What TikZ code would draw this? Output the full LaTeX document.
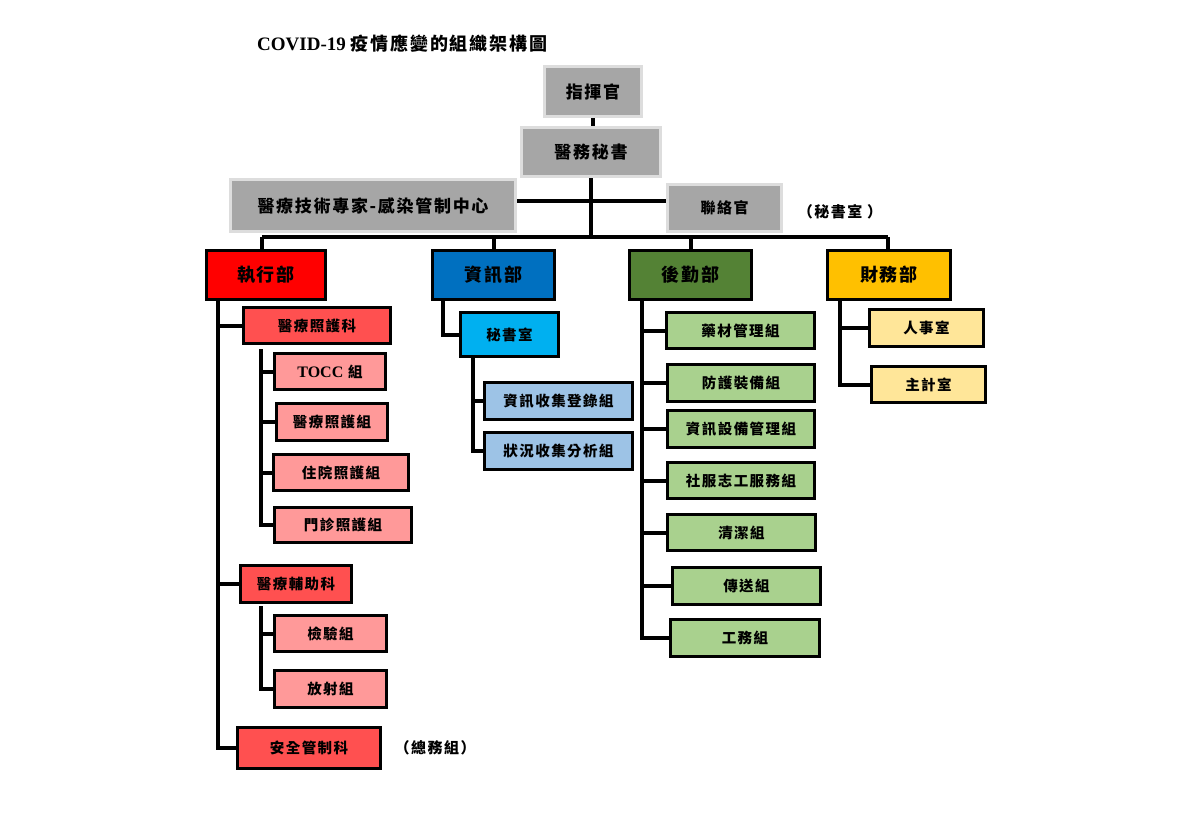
\documentclass[tikz,border=0pt]{standalone}
\usepackage{fontspec}
\setmainfont{Liberation Serif}
\newfontfamily\cjk[LetterSpace=10]{Noto Sans CJK TC}
\definecolor{gfill}{HTML}{A6A6A6}
\definecolor{gedge}{HTML}{DDDDDD}
\definecolor{cexe}{HTML}{FF0000}
\definecolor{cinfo}{HTML}{0070C0}
\definecolor{clog}{HTML}{548235}
\definecolor{cfin}{HTML}{FFC000}
\definecolor{ckeb}{HTML}{FF5050}
\definecolor{cgrp}{HTML}{FF9999}
\definecolor{csec}{HTML}{00B0F0}
\definecolor{cinf}{HTML}{9DC3E6}
\definecolor{clg}{HTML}{A9D18E}
\definecolor{cfs}{HTML}{FFE699}
\tikzset{
  gbox/.style={fill=gfill, draw=gedge, line width=3pt, inner sep=0pt,
    font={\cjk\bfseries\fontsize{17pt}{19pt}\selectfont}},
  dbox/.style={fill=#1, draw=black, line width=3.5pt, inner sep=0pt,
    font={\cjk\bfseries\fontsize{18pt}{20pt}\selectfont}},
  sbox/.style={fill=#1, draw=black, line width=3.5pt, inner sep=0pt,
    font={\cjk\bfseries\fontsize{14.5pt}{16pt}\selectfont}},
  conn/.style={line width=4pt, line join=miter},
  note/.style={inner sep=0pt, font={\cjk\bfseries\fontsize{15pt}{17pt}\selectfont}}
}
\begin{document}
\begin{tikzpicture}[x=1pt,y=-1pt]
\useasboundingbox[fill=white] (0,0) rectangle (1200,819);
% title
\node[inner sep=0pt, anchor=west] (title) at (257,44)
  {{\bfseries\fontsize{19pt}{21pt}\selectfont COVID-19}\hspace{5pt}{\cjk\bfseries\fontsize{18pt}{20pt}\selectfont 疫情應變的組織架構圖}};
% top
\node[gbox, minimum width=97pt, minimum height=50pt] (cmd) at (593,91.5) {指揮官};
\node[gbox, minimum width=139pt, minimum height=49pt] (sec) at (591,152) {醫務秘書};
\node[gbox, minimum width=285pt, minimum height=52pt] (exp) at (373,205.5) {醫療技術專家-感染管制中心};
\node[gbox, minimum width=114pt, minimum height=47pt, font={\cjk\bfseries\fontsize{15pt}{17pt}\selectfont}] (liaison) at (724.5,208) {聯絡官};
\node[note] (note1) at (840,212) {（秘書室 ）};
% departments
\node[dbox=cexe, minimum width=119pt, minimum height=49pt] (exe) at (266,275) {執行部};
\node[dbox=cinfo, minimum width=122pt, minimum height=49pt] (info) at (493.5,275) {資訊部};
\node[dbox=clog, minimum width=122pt, minimum height=49pt] (log) at (690.5,275) {後勤部};
\node[dbox=cfin, minimum width=123pt, minimum height=49pt] (fin) at (889,275) {財務部};
% connectors top
\coordinate (hline) at (592,201);
\coordinate (barL) at (262,237);
\coordinate (barR) at (888,237);
\draw[conn] (cmd.south) -- (cmd.south |- sec.north);
\draw[conn] (sec.south) -- (sec.south |- barL);
\draw[conn] (exp.east |- hline) -- (liaison.west |- hline);
\draw[conn] (barL) -- (barR);
\draw[conn] (barL) -- (barL |- exe.north);
\draw[conn] (info.north |- barL) -- (info.north);
\draw[conn] (log.north |- barL) -- (log.north);
\draw[conn] (barR) -- (barR |- fin.north);
% exec
\node[sbox=ckeb, minimum width=147pt, minimum height=36pt] (k1) at (317,325.5) {醫療照護科};
\node[sbox=cgrp, minimum width=111pt, minimum height=36pt] (g1) at (330,371.5) {{\rmfamily\bfseries\fontsize{16pt}{17pt}\selectfont TOCC} 組};
\node[sbox=cgrp, minimum width=111pt, minimum height=37pt] (g2) at (332,422) {醫療照護組};
\node[sbox=cgrp, minimum width=135pt, minimum height=36pt] (g3) at (341,472.5) {住院照護組};
\node[sbox=cgrp, minimum width=137pt, minimum height=35pt] (g4) at (343,525) {門診照護組};
\node[sbox=ckeb, minimum width=111pt, minimum height=37pt] (k2) at (296,584) {醫療輔助科};
\node[sbox=cgrp, minimum width=112pt, minimum height=36pt] (g5) at (330.5,633.5) {檢驗組};
\node[sbox=cgrp, minimum width=112pt, minimum height=37pt] (g6) at (330.5,689) {放射組};
\node[sbox=ckeb, minimum width=143pt, minimum height=41pt] (k3) at (309,748) {安全管制科};
\node[note] (note2) at (435,748) {（總務組）};
\coordinate (t1) at (218,301);
\coordinate (s1) at (261,349);
\coordinate (s2) at (261,606);
\draw[conn] (t1) |- (k3.west);
\draw[conn] (t1 |- k1.west) -- (k1.west);
\draw[conn] (t1 |- k2.west) -- (k2.west);
\draw[conn] (s1) |- (g4.west);
\draw[conn] (s1 |- g1.west) -- (g1.west);
\draw[conn] (s1 |- g2.west) -- (g2.west);
\draw[conn] (s1 |- g3.west) -- (g3.west);
\draw[conn] (s2) |- (g6.west);
\draw[conn] (s2 |- g5.west) -- (g5.west);
% info
\node[sbox=csec, minimum width=98pt, minimum height=44pt] (sec2) at (509.5,334.5) {秘書室};
\node[sbox=cinf, minimum width=148pt, minimum height=37pt] (i1) at (558.5,401) {資訊收集登錄組};
\node[sbox=cinf, minimum width=148pt, minimum height=37pt] (i2) at (558.5,451) {狀況收集分析組};
\coordinate (t2) at (443,301);
\coordinate (s3) at (473,358);
\draw[conn] (t2) |- (sec2.west);
\draw[conn] (s3) |- (i2.west);
\draw[conn] (s3 |- i1.west) -- (i1.west);
% logistics
\node[sbox=clg, minimum width=148pt, minimum height=36pt] (l1) at (740.5,330.5) {藥材管理組};
\node[sbox=clg, minimum width=147pt, minimum height=37pt] (l2) at (741,383) {防護裝備組};
\node[sbox=clg, minimum width=147pt, minimum height=37pt] (l3) at (741,429) {資訊設備管理組};
\node[sbox=clg, minimum width=147pt, minimum height=36pt] (l4) at (741,480.5) {社服志工服務組};
\node[sbox=clg, minimum width=148pt, minimum height=36pt] (l5) at (741.5,532.5) {清潔組};
\node[sbox=clg, minimum width=148pt, minimum height=37pt] (l6) at (746.5,586) {傳送組};
\node[sbox=clg, minimum width=149pt, minimum height=37pt] (l7) at (745,638) {工務組};
\coordinate (t3) at (642,301);
\draw[conn] (t3) |- (l7.west);
\foreach \n in {l1,l2,l3,l4,l5,l6} \draw[conn] (t3 |- \n.west) -- (\n.west);
% finance
\node[sbox=cfs, minimum width=114pt, minimum height=37pt] (f1) at (926.5,328) {人事室};
\node[sbox=cfs, minimum width=114pt, minimum height=36pt] (f2) at (928.5,384.5) {主計室};
\coordinate (t4) at (840,301);
\draw[conn] (t4) |- (f2.west);
\draw[conn] (t4 |- f1.west) -- (f1.west);
\end{tikzpicture}
\end{document}
